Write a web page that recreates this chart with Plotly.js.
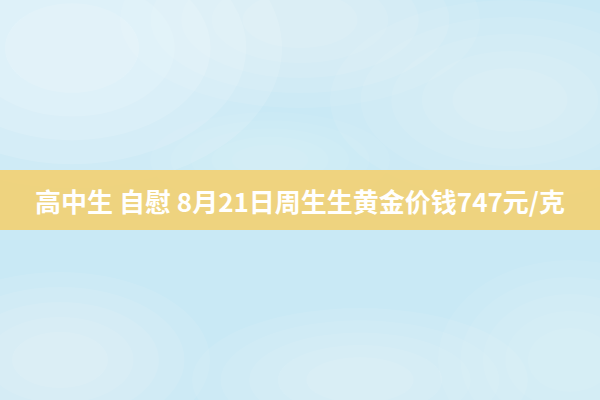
<!DOCTYPE html>
<html>
<head>
<meta charset="utf-8">
<script src="https://cdn.plot.ly/plotly-3.0.1.min.js"></script>
<style>
  html, body { margin: 0; padding: 0; }
  #container { width: 600px; height: 400px; }
</style>
</head>
<body>
<div id="container"></div>
<script>
// banner text
var bannerText = '高中生 自慰 8月21日周生生黄金价钱747元/克';

// soft white "cloud" blobs over the blue background: [cx, cy, rx, ry, opacity]
var cloudBlobs = [
  [0.12, 0.88, 0.35, 0.35, 0.5],
  [0.5, 0.95, 0.3, 0.22, 0.35],
  [0.85, 0.75, 0.3, 0.25, 0.3],
  [0.1, 0.1, 0.25, 0.22, 0.35],
  [0.6, 0.05, 0.28, 0.18, 0.3],
  [0.95, 0.1, 0.22, 0.25, 0.25],
  [0.45, 0.6, 0.2, 0.12, 0.2]
];

var shapes = [];
cloudBlobs.forEach(function(b) {
  // stacked rings to feather the edges
  for (var k = 1; k <= 5; k++) {
    var f = 1 - (k - 1) * 0.17;
    shapes.push({
      type: 'circle', xref: 'paper', yref: 'paper',
      x0: b[0] - b[2] * f, x1: b[0] + b[2] * f,
      y0: b[1] - b[3] * f, y1: b[1] + b[3] * f,
      fillcolor: 'rgba(255,255,255,' + (b[4] / 4) + ')',
      line: { width: 0 }, layer: 'below'
    });
  }
});

// yellow banner strip
shapes.push({
  type: 'rect', xref: 'paper', yref: 'paper',
  x0: 0, x1: 1, y0: 170 / 400, y1: 230 / 400,
  fillcolor: 'rgba(240,210,120,0.95)',
  line: { width: 0 }
});

var layout = {
  width: 600,
  height: 400,
  margin: { l: 0, r: 0, t: 0, b: 0 },
  paper_bgcolor: '#c9e9f5',
  plot_bgcolor: 'rgba(0,0,0,0)',
  xaxis: { visible: false, range: [0, 1] },
  yaxis: { visible: false, range: [0, 1] },
  shapes: shapes,
  annotations: [{
    xref: 'paper', yref: 'paper', x: 0.5, y: 0.5,
    text: bannerText, showarrow: false,
    font: { family: 'Noto Sans CJK SC', size: 26, color: '#ffffff', weight: 'bold' }
  }],
  showlegend: false
};

Plotly.newPlot('container', [], layout, { staticPlot: true, displayModeBar: false });
</script>
</body>
</html>
